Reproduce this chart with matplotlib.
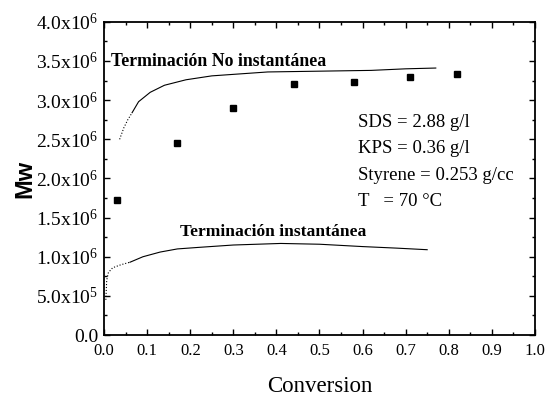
import matplotlib.pyplot as plt
from matplotlib.ticker import MultipleLocator, FixedLocator

plt.rcParams['font.family'] = ['Liberation Serif', 'DejaVu Serif']
plt.rcParams['mathtext.fontset'] = 'custom'
plt.rcParams['mathtext.rm'] = 'Liberation Serif'
plt.rcParams['mathtext.it'] = 'Liberation Serif:italic'

# experimental Mw vs conversion
conv_exp = [0.03, 0.17, 0.30, 0.44, 0.58, 0.71, 0.82]
mw_exp = [1.72e6, 2.45e6, 2.90e6, 3.21e6, 3.23e6, 3.30e6, 3.34e6]

# model: non-instantaneous termination
conv_noinst_dot = [0.036, 0.040, 0.046, 0.055, 0.065]
mw_noinst_dot = [2.50e6, 2.56e6, 2.65e6, 2.75e6, 2.84e6]
conv_noinst = [0.065, 0.08, 0.107, 0.14, 0.19, 0.25, 0.38, 0.50, 0.62, 0.70, 0.77]
mw_noinst = [2.84e6, 2.98e6, 3.10e6, 3.19e6, 3.26e6, 3.31e6, 3.36e6, 3.37e6, 3.38e6, 3.40e6, 3.41e6]

# model: instantaneous termination
conv_inst_dot = [0.004, 0.006, 0.010, 0.020, 0.040, 0.060]
mw_inst_dot = [0.45e6, 0.70e6, 0.80e6, 0.86e6, 0.90e6, 0.93e6]
conv_inst = [0.06, 0.09, 0.13, 0.17, 0.22, 0.30, 0.41, 0.50, 0.60, 0.68, 0.75]
mw_inst = [0.93e6, 1.00e6, 1.06e6, 1.10e6, 1.12e6, 1.15e6, 1.17e6, 1.16e6, 1.13e6, 1.11e6, 1.09e6]

xticks = [0.0, 0.1, 0.2, 0.3, 0.4, 0.5, 0.6, 0.7, 0.8, 0.9, 1.0]
xticklabels = ['0.0', '0.1', '0.2', '0.3', '0.4', '0.5', '0.6', '0.7', '0.8', '0.9', '1.0']
yticks = [0, 0.5e6, 1.0e6, 1.5e6, 2.0e6, 2.5e6, 3.0e6, 3.5e6, 4.0e6]
yticklabels = ['0.0', r'5.0x10$^{5}$', r'1.0x10$^{6}$', r'1.5x10$^{6}$', r'2.0x10$^{6}$',
               r'2.5x10$^{6}$', r'3.0x10$^{6}$', r'3.5x10$^{6}$', r'4.0x10$^{6}$']

fig = plt.figure(figsize=(5.48, 3.97), dpi=100)
ax = fig.add_axes([0.190, 0.156, 0.786, 0.789])

ax.plot(conv_exp, mw_exp, 's', color='black', markersize=5)
ax.plot(conv_noinst_dot, mw_noinst_dot, ':', color='black', lw=0.8)
ax.plot(conv_noinst, mw_noinst, '-', color='black', lw=0.8)
ax.plot(conv_inst_dot, mw_inst_dot, ':', color='black', lw=0.8)
ax.plot(conv_inst, mw_inst, '-', color='black', lw=0.8)

ax.text(0.015, 3.49e6, 'Terminación No instantánea', fontsize=12.8, fontweight='bold', va='center')
ax.text(0.176, 1.31e6, 'Terminación instantánea', fontsize=12.6, fontweight='bold', va='center')
ax.text(0.59, 2.72e6, 'SDS = 2.88 g/l', fontsize=13.5, va='center')
ax.text(0.59, 2.38e6, 'KPS = 0.36 g/l', fontsize=13.5, va='center')
ax.text(0.59, 2.04e6, 'Styrene = 0.253 g/cc', fontsize=13.5, va='center')
ax.text(0.59, 1.70e6, 'T   = 70 °C', fontsize=13.5, va='center')

ax.set_xlim(0, 1.0)
ax.set_ylim(0, 4.0e6)
ax.xaxis.set_major_locator(FixedLocator(xticks))
ax.xaxis.set_minor_locator(MultipleLocator(0.05))
ax.yaxis.set_major_locator(FixedLocator(yticks))
ax.yaxis.set_minor_locator(MultipleLocator(0.25e6))
ax.set_xticklabels(xticklabels)
ax.set_yticklabels(yticklabels)
ax.tick_params(which='both', direction='in', top=True, right=True, width=1)
ax.tick_params(axis='x', labelsize=12, pad=6)
ax.tick_params(axis='y', labelsize=14, pad=4)
ax.tick_params(which='major', length=4)
ax.tick_params(which='minor', length=2)
for s in ax.spines.values():
    s.set_linewidth(1.3)

ax.set_xlabel('Conversion', fontsize=16.5, labelpad=12)
ax.set_ylabel('Mw', fontsize=17, fontweight='bold', family=['Liberation Sans', 'DejaVu Sans'], labelpad=0)

fig.savefig('out.png', dpi=100)
